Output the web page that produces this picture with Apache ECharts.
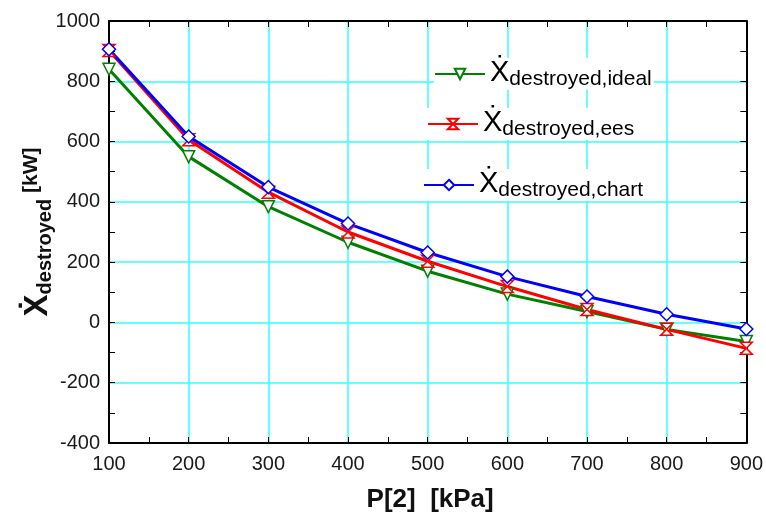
<!DOCTYPE html>
<html>
<head>
<meta charset="utf-8">
<script src="https://cdn.jsdelivr.net/npm/echarts@6/dist/echarts.min.js"></script>
<style>
  html, body { margin: 0; padding: 0; background: #fff; }
  #main { width: 766px; height: 518px; }
</style>
</head>
<body>
<div id="main"></div>
<script>
// P[2] in kPa
const pressure = [100, 200, 300, 400, 500, 600, 700, 800, 900];
const xIdeal = [840, 550, 384, 266, 170, 94, 36, -23, -63];
const xEes = [902, 606, 432, 300, 203, 119, 43, -23, -86];
const xChart = [906, 617, 449, 328, 232, 152, 86, 27, -22];
const seriesNames = ["ideal", "ees", "chart"];

const hourglass = "path://M0,0 L10,0 L0,12 L10,12 Z";

const legendRich = {
  x: { fontSize: 29, fontFamily: "Liberation Sans", color: "#000", verticalAlign: "top", lineHeight: 28 },
  s: { fontSize: 21, fontFamily: "Liberation Sans", color: "#000", verticalAlign: "bottom", lineHeight: 32 }
};

function makeLegend(name, left, top) {
  return {
    data: [name],
    left: left,
    top: top,
    itemWidth: 50,
    itemHeight: 13,
    itemGap: 2,
    backgroundColor: "#fff",
    padding: [0, 2, 0, 0],
    formatter: "{x|Ẋ}{s|destroyed," + name + "}",
    textStyle: { rich: legendRich }
  };
}

function makeSeries(name, data, color, symbol) {
  return {
    name: name,
    type: "line",
    data: data.map((v, i) => [pressure[i], v]),
    symbol: symbol,
    symbolSize: symbol === "diamond" ? 13 : 12,
    showAllSymbol: true,
    lineStyle: { color: color, width: 3 },
    itemStyle: { color: "#fff", borderColor: color, borderWidth: 1.5 },
    emphasis: { disabled: true }
  };
}

const boxAxis = {
  axisLine: { show: true, onZero: false, lineStyle: { color: "#000", width: 2 } },
  axisTick: { show: true, inside: true, length: 6, lineStyle: { color: "#000", width: 1 } },
  minorTick: { show: true, splitNumber: 2, length: 6, lineStyle: { color: "#000", width: 1 } }
};

const nameFont = { fontWeight: "bold", color: "#111", fontFamily: "Liberation Sans" };

const chart = echarts.init(document.getElementById("main"));
const option = {
  animation: false,
  grid: { left: 109, top: 21, right: 18, bottom: 74 },
  legend: [
    makeLegend("ideal", 434, 58),
    makeLegend("ees", 427, 108),
    makeLegend("chart", 423, 169)
  ],
  xAxis: [
    Object.assign({
      type: "value",
      min: 100,
      max: 900,
      interval: 100,
      name: "P[2]  [kPa]",
      nameLocation: "middle",
      nameGap: 44,
      nameTextStyle: { fontSize: 26, fontWeight: "bold", color: "#111", fontFamily: "Liberation Sans", padding: [0, 0, 0, 5] },
      axisLabel: { fontSize: 20, color: "#1a1a1a", margin: 11, fontFamily: "Liberation Sans" },
      splitLine: { show: true, lineStyle: { color: "#33ffff", width: 1.5 } }
    }, boxAxis),
    Object.assign({
      type: "value",
      position: "top",
      min: 100,
      max: 900,
      interval: 100,
      axisLabel: { show: false },
      splitLine: { show: false }
    }, boxAxis)
  ],
  yAxis: [
    Object.assign({
      type: "value",
      min: -400,
      max: 1000,
      interval: 200,
      name: "{x|Ẋ}{s|destroyed}{u| [kW]}",
      nameLocation: "middle",
      nameGap: 54,
      nameMoveOverlap: false,
      nameRotate: 90,
      nameTextStyle: {
        rich: {
          x: Object.assign({ fontSize: 33, verticalAlign: "top", lineHeight: 32 }, nameFont),
          s: Object.assign({ fontSize: 20, verticalAlign: "bottom", lineHeight: 34 }, nameFont),
          u: Object.assign({ fontSize: 21, verticalAlign: "top", lineHeight: 24 }, nameFont)
        }
      },
      axisLabel: { fontSize: 20, color: "#1a1a1a", margin: 9, fontFamily: "Liberation Sans", formatter: v => String(v) },
      splitLine: { show: true, lineStyle: { color: "#33ffff", width: 1.5 } }
    }, boxAxis),
    Object.assign({
      type: "value",
      position: "right",
      min: -400,
      max: 1000,
      interval: 200,
      axisLabel: { show: false },
      splitLine: { show: false }
    }, boxAxis)
  ],
  series: [
    makeSeries(seriesNames[0], xIdeal, "#008000", "triangle"),
    makeSeries(seriesNames[1], xEes, "#ff0000", hourglass),
    makeSeries(seriesNames[2], xChart, "#0000ff", "diamond")
  ]
};
// green markers point down in the reference
option.series[0].symbolRotate = 180;
chart.setOption(option);
</script>
</body>
</html>
